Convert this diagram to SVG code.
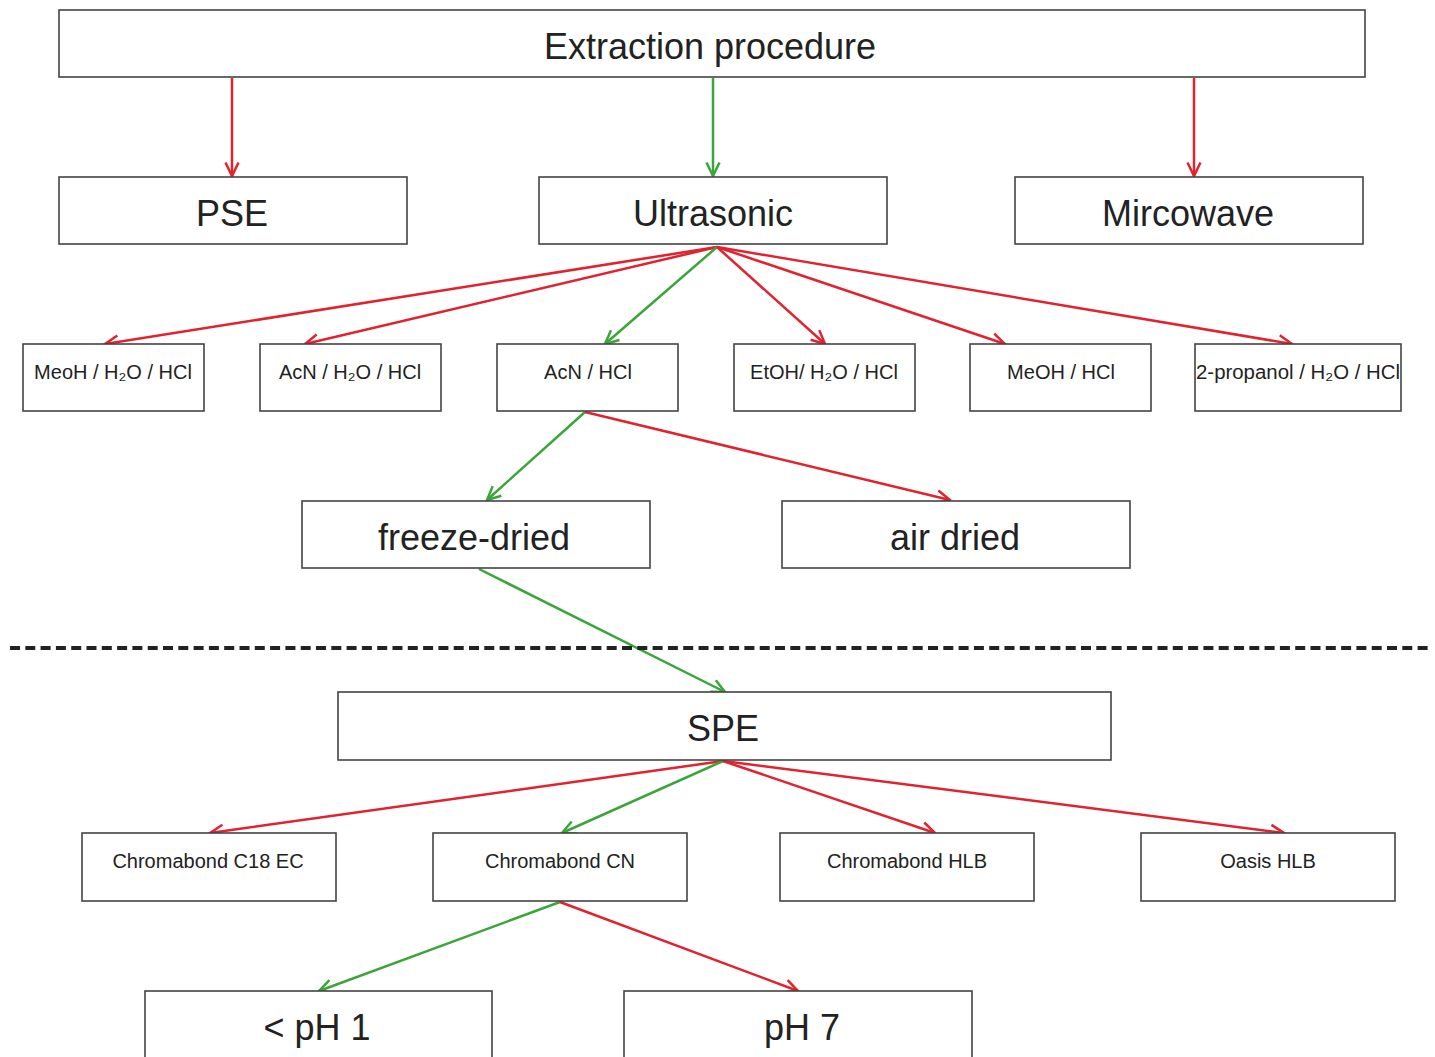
<svg xmlns="http://www.w3.org/2000/svg" width="1435" height="1057" viewBox="0 0 1435 1057">
<style>
.box{fill:#fff;stroke:#444;stroke-width:1.6}
.t{font-family:"Liberation Sans",Arial,sans-serif;fill:#222;text-anchor:middle}
.big{font-size:36px}
.sm{font-size:20px}
.r{stroke:#e1222f;stroke-width:2.5;fill:none}
.g{stroke:#3aa63a;stroke-width:2.5;fill:none}
</style>
<defs>
<marker id="ar" viewBox="0 0 18 18" refX="16.5" refY="9" markerWidth="18" markerHeight="18" markerUnits="userSpaceOnUse" orient="auto">
<path d="M3,2.5 L16.5,9 L3,15.5" fill="none" stroke="#e1222f" stroke-width="2.5"/>
</marker>
<marker id="ag" viewBox="0 0 18 18" refX="16.5" refY="9" markerWidth="18" markerHeight="18" markerUnits="userSpaceOnUse" orient="auto">
<path d="M3,2.5 L16.5,9 L3,15.5" fill="none" stroke="#3aa63a" stroke-width="2.5"/>
</marker>
</defs>
<rect width="1435" height="1057" fill="#fff"/>
<g id="connectors">
<line class="r" x1="232" y1="78" x2="232" y2="176" marker-end="url(#ar)"/>
<line class="g" x1="713" y1="78" x2="713" y2="176" marker-end="url(#ag)"/>
<line class="r" x1="1194" y1="78" x2="1194" y2="176" marker-end="url(#ar)"/>
<line class="r" x1="717" y1="247" x2="105" y2="344" marker-end="url(#ar)"/>
<line class="r" x1="717" y1="247" x2="305" y2="344" marker-end="url(#ar)"/>
<line class="g" x1="717" y1="247" x2="605" y2="344" marker-end="url(#ag)"/>
<line class="r" x1="717" y1="247" x2="825" y2="344" marker-end="url(#ar)"/>
<line class="r" x1="717" y1="247" x2="1005" y2="344" marker-end="url(#ar)"/>
<line class="r" x1="717" y1="247" x2="1292" y2="344" marker-end="url(#ar)"/>
<line class="g" x1="585" y1="412" x2="487" y2="500" marker-end="url(#ag)"/>
<line class="r" x1="585" y1="412" x2="950" y2="500" marker-end="url(#ar)"/>
<line class="g" x1="479" y1="569" x2="725" y2="692" marker-end="url(#ag)"/>
<line class="r" x1="723" y1="761" x2="210" y2="833" marker-end="url(#ar)"/>
<line class="g" x1="723" y1="761" x2="562" y2="833" marker-end="url(#ag)"/>
<line class="r" x1="723" y1="761" x2="935" y2="833" marker-end="url(#ar)"/>
<line class="r" x1="723" y1="761" x2="1284" y2="833" marker-end="url(#ar)"/>
<line class="g" x1="560" y1="902" x2="319" y2="991" marker-end="url(#ag)"/>
<line class="r" x1="560" y1="902" x2="798" y2="991" marker-end="url(#ar)"/>
</g>
<line x1="10" y1="648" x2="1430" y2="648" stroke="#222" stroke-width="4" stroke-dasharray="10,5.3"/>
<g id="extraction"><rect class="box" x="59" y="10" width="1306" height="67"/><text class="t big" x="710" y="59">Extraction procedure</text></g>
<g id="pse"><rect class="box" x="59" y="177" width="348" height="67"/><text class="t big" x="232" y="226">PSE</text></g>
<g id="ultrasonic"><rect class="box" x="539" y="177" width="348" height="67"/><text class="t big" x="713" y="226">Ultrasonic</text></g>
<g id="mircowave"><rect class="box" x="1015" y="177" width="348" height="67"/><text class="t big" x="1188" y="226">Mircowave</text></g>
<g id="s1"><rect class="box" x="23" y="344" width="181" height="67"/><text class="t sm" x="113" y="379">MeoH / H₂O / HCl</text></g>
<g id="s2"><rect class="box" x="260" y="344" width="181" height="67"/><text class="t sm" x="350" y="379">AcN / H₂O / HCl</text></g>
<g id="s3"><rect class="box" x="497" y="344" width="181" height="67"/><text class="t sm" x="588" y="379">AcN / HCl</text></g>
<g id="s4"><rect class="box" x="734" y="344" width="181" height="67"/><text class="t sm" x="824" y="379">EtOH/ H₂O / HCl</text></g>
<g id="s5"><rect class="box" x="970" y="344" width="181" height="67"/><text class="t sm" x="1061" y="379">MeOH / HCl</text></g>
<g id="s6"><rect class="box" x="1195" y="344" width="206" height="67"/><text class="t sm" x="1298" y="379" textLength="204" lengthAdjust="spacingAndGlyphs">2-propanol / H₂O / HCl</text></g>
<g id="freeze"><rect class="box" x="302" y="501" width="348" height="67"/><text class="t big" x="474" y="550">freeze-dried</text></g>
<g id="air"><rect class="box" x="782" y="501" width="348" height="67"/><text class="t big" x="955" y="550">air dried</text></g>
<g id="spe"><rect class="box" x="338" y="692" width="773" height="68"/><text class="t big" x="723" y="741">SPE</text></g>
<g id="c1"><rect class="box" x="82" y="833" width="254" height="68"/><text class="t sm" x="208" y="868">Chromabond C18 EC</text></g>
<g id="c2"><rect class="box" x="433" y="833" width="254" height="68"/><text class="t sm" x="560" y="868">Chromabond CN</text></g>
<g id="c3"><rect class="box" x="780" y="833" width="254" height="68"/><text class="t sm" x="907" y="868">Chromabond HLB</text></g>
<g id="c4"><rect class="box" x="1141" y="833" width="254" height="68"/><text class="t sm" x="1268" y="868">Oasis HLB</text></g>
<g id="ph1"><rect class="box" x="145" y="991" width="347" height="80"/><text class="t big" x="317" y="1040">&lt; pH 1</text></g>
<g id="ph7"><rect class="box" x="624" y="991" width="348" height="80"/><text class="t big" x="802" y="1040">pH 7</text></g>
</svg>
